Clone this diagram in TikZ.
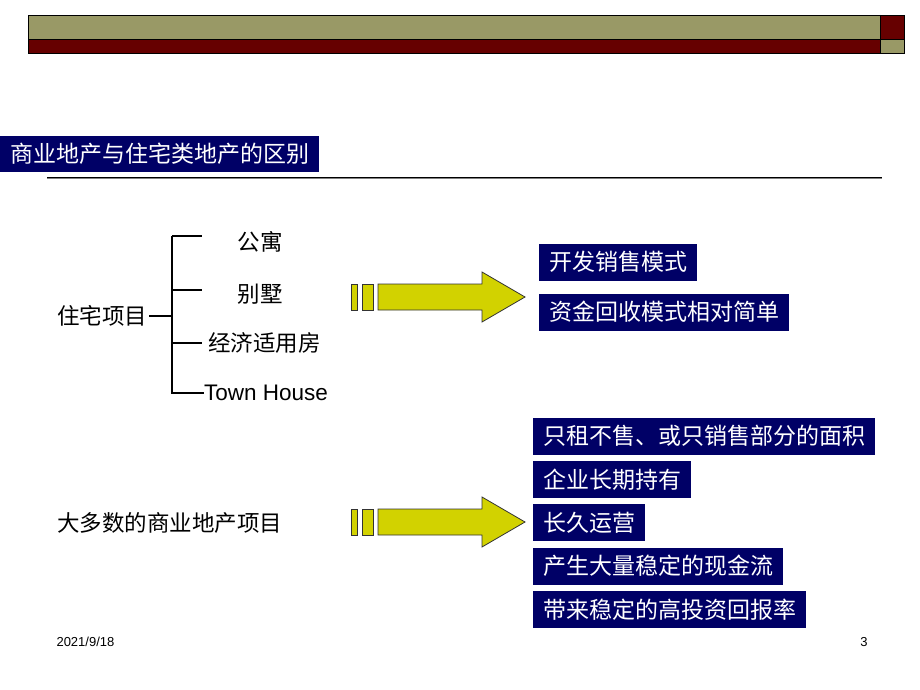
\documentclass[tikz,border=0pt]{standalone}
\usepackage{fontspec}
\setmainfont{Liberation Sans}
\newfontfamily\cjk{Noto Sans CJK SC}
\usetikzlibrary{positioning}
\definecolor{navy}{RGB}{0,0,102}
\definecolor{olivebar}{RGB}{153,153,102}
\definecolor{maroonbar}{RGB}{102,0,0}
\definecolor{arrowyellow}{RGB}{210,210,0}

\begin{document}
\begin{tikzpicture}
      [   x=1pt,y=-1pt,
          tag/.style={fill=navy,text=white,font=\cjk\fontsize{23}{26}\selectfont,
                      inner xsep=10pt,inner ysep=0pt,minimum height=37pt,anchor=west},
          item/.style={font=\cjk\fontsize{22.5}{26}\selectfont,inner sep=0pt},
          twig/.style={line width=1.4pt},
          blockarrow/.style={draw=black!80,fill=arrowyellow,line width=0.8pt},
      ]
          \useasboundingbox (0,0) rectangle (920,690);
          % header bar
          \fill[olivebar] (28,15) rectangle (880,39);
          \fill[maroonbar] (28,39) rectangle (880,53);
          \fill[maroonbar] (880,15) rectangle (904,39);
          \fill[olivebar] (880,39) rectangle (904,53);
          \draw[line width=0.8pt] (28,15) rectangle (904,53) (880,15) -- (880,53) (28,39) -- (904,39);
          % title
          \node[tag,font=\cjk\fontsize{23}{26}\selectfont,minimum height=36pt] (title) at (0,154) {商业地产与住宅类地产的区别};
          \coordinate (rule-l) at (47,177);
          \coordinate (rule-r) at (882,177);
          \draw[gray,line width=0.8pt] ([yshift=-1pt]rule-l) -- ([yshift=-1pt]rule-r);
          \draw[line width=1pt] (rule-l) -- (rule-r);
          % residential tree
          \node[item,anchor=west] (house) at (57,316) {住宅项目};
          \node[item] (apt) at (260,242) {公寓};
          \node[item] (villa) at (260,294) {别墅};
          \node[item,anchor=west] (afford) at (208,343) {经济适用房};
          \node[item,anchor=west,font=\fontsize{22.5}{26}\selectfont] (town) at (204,393) {Town House};
          \coordinate (trunk) at (172,316);
          \coordinate (trunk-top) at (172,236);
          \coordinate (trunk-bot) at (172,394);
          \draw[twig] (house.east) ++(2,0) -- (trunk);
          \draw[twig] (trunk-top) -- (trunk-bot);
          \foreach \y/\n in {236/apt,290/villa,343/afford}
          {   \coordinate (twig-\n) at (202,\y);
              \draw[twig] (trunk |- twig-\n) -- (twig-\n);
          }
          \draw[twig] (trunk |- town.west) -- (town.west);
          % commercial
          \node[item,anchor=west] (mall) at (57,523) {大多数的商业地产项目};
          % arrows
          \foreach \y/\n in {297/upper,522/lower}
          {   \draw[blockarrow] (351,{\y-13}) rectangle (357,{\y+13});
              \draw[blockarrow] (362,{\y-13}) rectangle (373,{\y+13});
              \draw[blockarrow] (378,{\y-13}) -- (482,{\y-13}) -- (482,{\y-25})
                  -- (525,\y) coordinate (tip-\n) -- (482,{\y+25}) -- (482,{\y+13}) -- (378,{\y+13}) -- cycle;
          }
          % result tags
          \node[tag] (sale) at (539,262) {开发销售模式};
          \node[tag] (fund) at (539,312) {资金回收模式相对简单};
          \foreach \t [count=\i] in {只租不售、或只销售部分的面积,企业长期持有,长久运营,产生大量稳定的现金流,带来稳定的高投资回报率}
          {   \node[tag] (hold-\i) at (533,{436+(\i-1)*43.4}) {\t};
          }
          % footer
          \node[anchor=west,font=\fontsize{13}{15}\selectfont] (date) at (53,642) {2021/9/18};
          \node[font=\fontsize{13}{15}\selectfont] (page) at (864,642) {3};
    \end{tikzpicture}
\end{document}
